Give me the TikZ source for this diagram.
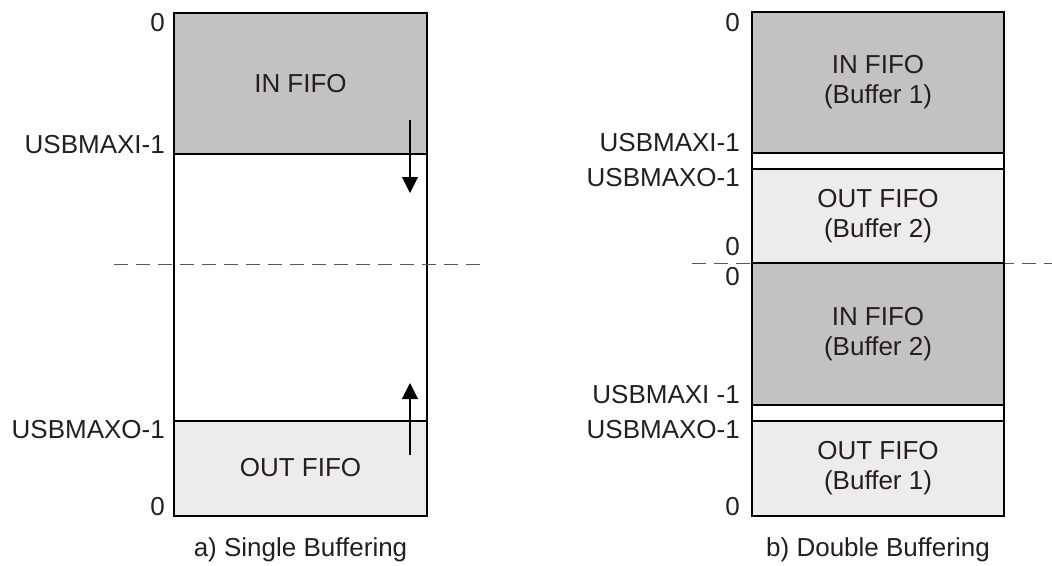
\documentclass[tikz,border=0pt]{standalone}
\usepackage{fontspec}
\setmainfont{Liberation Sans}
\usetikzlibrary{arrows.meta}
\definecolor{ink}{HTML}{231F20}
\definecolor{darkfill}{HTML}{C2C2C2}
\definecolor{lightfill}{HTML}{ECECEC}
\begin{document}
\begin{tikzpicture}[x=1pt,y=-1pt,
  font=\fontsize{26}{30}\selectfont, text=ink,
  blk/.style={draw=black,line width=2.1pt,inner sep=0pt,align=center},
  lbl/.style={anchor=east,inner sep=0pt},
  captxt/.style={inner sep=0pt},
  sepline/.style={draw=black!65,line width=1pt,dash pattern=on 14pt off 8pt},
  flow/.style={line width=1.1pt,-{Triangle[length=16pt,width=16pt]}}]
\useasboundingbox (0,0) rectangle (1052,565);
% right separator (behind boxes)
\coordinate (rsA) at (692,263);
\coordinate (rsB) at (1052,263);
\draw[sepline] (rsA) -- (rsB);
% ---- left panel ----
\node[blk,fill=darkfill,minimum width=253pt,minimum height=141pt] (ain) at (300.5,83.5) {IN FIFO};
\node[blk,minimum width=253pt,minimum height=267pt] (aempty) at (300.5,287.5) {};
\node[blk,fill=lightfill,minimum width=253pt,minimum height=95pt] (aout) at (300.5,468.5) {};
\node[captxt] (aoutt) at (300.5,468) {OUT FIFO};
\coordinate (lsA) at (114,264);
\coordinate (lsB) at (487,264);
\draw[sepline] (lsA) -- (lsB);
\coordinate (d1) at (410,120);
\coordinate (d2) at (410,193);
\coordinate (u1) at (410,455);
\coordinate (u2) at (410,383);
\draw[flow] (d1) -- (d2);
\draw[flow] (u1) -- (u2);
\node[lbl] (a0t) at (165,23) {0};
\node[lbl] (ami) at (165,145) {USBMAXI-1};
\node[lbl] (amo) at (165,430) {USBMAXO-1};
\node[lbl] (a0b) at (165,507) {0};
\node[captxt] (acap) at (300.5,550) {a) Single Buffering};
% ---- right panel ----
\node[blk,fill=darkfill,minimum width=252pt,minimum height=141pt] (bin1) at (878,82.5) {IN FIFO\\(Buffer 1)};
\node[blk,fill=white,minimum width=252pt,minimum height=16pt] (bg1) at (878,161) {};
\node[blk,fill=lightfill,minimum width=252pt,minimum height=94pt] (bout2) at (878,216) {OUT FIFO\\(Buffer 2)};
\node[blk,fill=darkfill,minimum width=252pt,minimum height=142pt] (bin2) at (878,334) {IN FIFO\\(Buffer 2)};
\node[blk,fill=white,minimum width=252pt,minimum height=16pt] (bg2) at (878,413) {};
\node[blk,fill=lightfill,minimum width=252pt,minimum height=95pt] (bout1) at (878,468.5) {OUT FIFO\\(Buffer 1)};
\node[lbl] (b0a) at (740,23) {0};
\node[lbl] (bmi1) at (740,143) {USBMAXI-1};
\node[lbl] (bmo1) at (740,178) {USBMAXO-1};
\node[lbl] (b0b) at (740,247) {0};
\node[lbl] (b0c) at (740,277) {0};
\node[lbl] (bmi2) at (740,395) {USBMAXI -1};
\node[lbl] (bmo2) at (740,430) {USBMAXO-1};
\node[lbl] (b0d) at (740,507) {0};
\node[captxt] (bcap) at (878,550) {b) Double Buffering};
\end{tikzpicture}
\end{document}
